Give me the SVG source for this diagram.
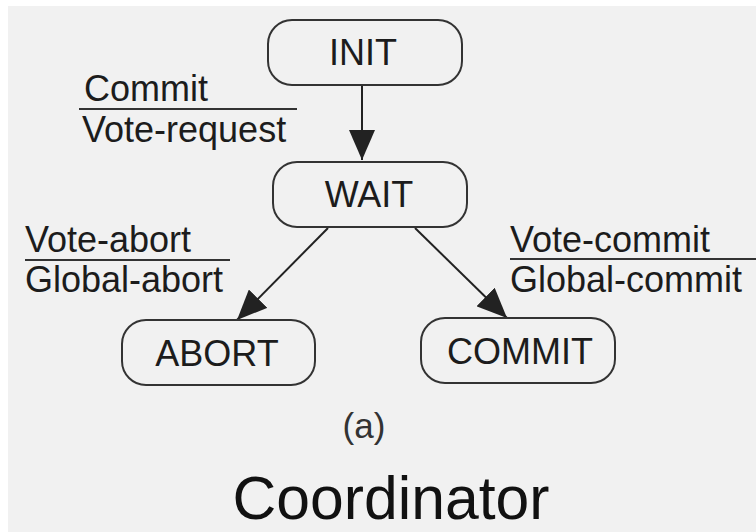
<svg xmlns="http://www.w3.org/2000/svg" width="756" height="532" viewBox="0 0 756 532">
<style>
.box{fill:none;stroke:#333;stroke-width:2}
.t{font-family:"Liberation Sans",Arial,sans-serif;font-size:36px;fill:#1c1c1c}
.c{text-anchor:middle}
.rule{stroke:#333;stroke-width:2}
.edge{stroke:#222;stroke-width:2;fill:none;marker-end:url(#ah)}
</style>
<defs>
<marker id="ah" viewBox="0 0 30 26" refX="30" refY="13" markerWidth="30" markerHeight="26" markerUnits="userSpaceOnUse" orient="auto">
<path d="M0,0 L30,13 L0,26 z" fill="#222"/>
</marker>
</defs>
<rect x="0" y="0" width="756" height="532" fill="#fff"/>
<rect x="8" y="6" width="748" height="526" fill="#f1f1f1"/>
<g id="connectors">
<line class="edge" x1="362" y1="85" x2="362" y2="160"/>
<line class="edge" x1="328" y1="228" x2="237" y2="320"/>
<line class="edge" x1="415" y1="228" x2="507" y2="318"/>
</g>
<g id="labels">
<text class="t" x="84" y="101">Commit</text>
<line class="rule" x1="79" y1="109" x2="297" y2="109"/>
<text class="t" x="82" y="142">Vote-request</text>
<text class="t" x="25" y="252">Vote-abort</text>
<line class="rule" x1="25" y1="260" x2="230" y2="260"/>
<text class="t" x="25" y="292">Global-abort</text>
<text class="t" x="510" y="252">Vote-commit</text>
<line class="rule" x1="510" y1="259" x2="756" y2="259"/>
<text class="t" x="510" y="292">Global-commit</text>
</g>
<g id="INIT">
<rect class="box" x="268" y="20" width="194" height="65" rx="24"/>
<text class="t c" x="363" y="65">INIT</text>
</g>
<g id="WAIT">
<rect class="box" x="273" y="162" width="194" height="65" rx="24"/>
<text class="t c" x="369" y="207">WAIT</text>
</g>
<g id="ABORT">
<rect class="box" x="122" y="320" width="193" height="65" rx="24"/>
<text class="t c" x="217" y="366">ABORT</text>
</g>
<g id="COMMIT">
<rect class="box" x="421" y="318" width="194" height="65" rx="24"/>
<text class="t c" x="520" y="364">COMMIT</text>
</g>
<text class="t c" x="364" y="438" style="font-size:35px;fill:#333">(a)</text>
<text class="t c" x="391" y="519" style="font-size:61px;fill:#111" textLength="317" lengthAdjust="spacingAndGlyphs">Coordinator</text>
</svg>
